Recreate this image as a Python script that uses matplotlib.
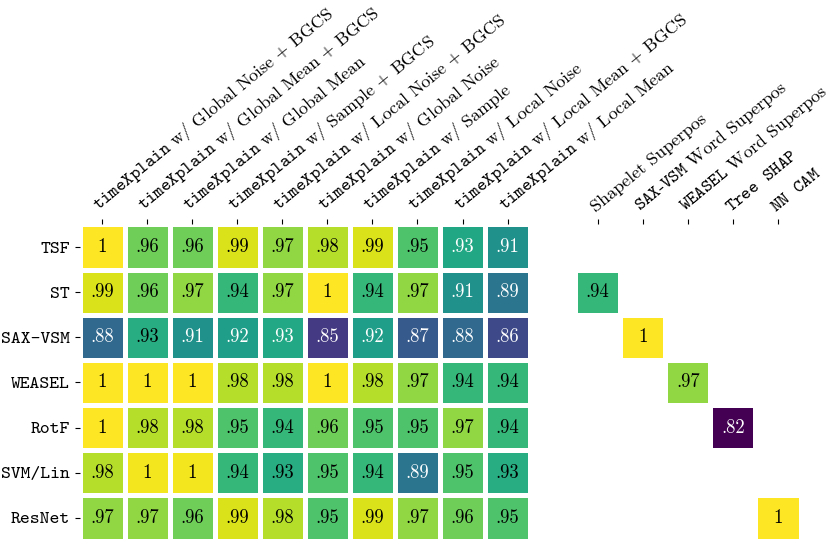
import numpy as np
import matplotlib
matplotlib.use("Agg")
import matplotlib.pyplot as plt

plt.rcParams['font.family'] = 'cmr10'
plt.rcParams['mathtext.fontset'] = 'cm'
plt.rcParams['axes.formatter.use_mathtext'] = True

classifiers = ['TSF', 'ST', 'SAX-VSM', 'WEASEL', 'RotF', 'SVM/Lin', 'ResNet']

txp_labels = [
    r'$\mathtt{timeXplain}$ w/ Global Noise + BGCS',
    r'$\mathtt{timeXplain}$ w/ Global Mean + BGCS',
    r'$\mathtt{timeXplain}$ w/ Global Mean',
    r'$\mathtt{timeXplain}$ w/ Sample + BGCS',
    r'$\mathtt{timeXplain}$ w/ Local Noise + BGCS',
    r'$\mathtt{timeXplain}$ w/ Global Noise',
    r'$\mathtt{timeXplain}$ w/ Sample',
    r'$\mathtt{timeXplain}$ w/ Local Noise',
    r'$\mathtt{timeXplain}$ w/ Local Mean + BGCS',
    r'$\mathtt{timeXplain}$ w/ Local Mean',
]
other_labels = [
    'Shapelet Superpos',
    r'$\mathtt{SAX}$-$\mathtt{VSM}$ Word Superpos',
    r'$\mathtt{WEASEL}$ Word Superpos',
    r'$\mathtt{Tree\ \ SHAP}$',
    r'$\mathtt{NN\ \ CAM}$',
]

# rows = classifiers, columns = timeXplain variants
txp_scores = [
    [1.0, .96, .96, .99, .97, .98, .99, .95, .927, .91],
    [.99, .96, .97, .94, .97, 1.0, .94, .97, .91, .89],
    [.88, .932, .91, .92, .928, .85, .92, .87, .88, .86],
    [1.0, 1.0, 1.0, .98, .98, 1.0, .98, .97, .94, .94],
    [1.0, .98, .98, .95, .94, .96, .95, .95, .97, .94],
    [.98, .997, .997, .94, .932, .95, .94, .89, .95, .932],
    [.97, .97, .96, .99, .98, .95, .99, .97, .96, .95],
]
# classifier-specific explainers: (row index, score)
other_rows = [1, 2, 3, 4, 6]
other_scores = [.94, 1.0, .97, .82, 1.0]

n_rows = len(classifiers)
n_txp = len(txp_labels)
n_cols = n_txp + 1 + len(other_labels)

grid = np.full((n_rows, n_cols), np.nan)
grid[:, :n_txp] = np.array(txp_scores)
for j, (r, s) in enumerate(zip(other_rows, other_scores)):
    grid[r, n_txp + 1 + j] = s

vmin, vmax = 0.82, 1.0
cmap = plt.get_cmap('viridis')

fig = plt.figure(figsize=(8.3, 5.44), dpi=100)
ax = fig.add_axes([79.5 / 830, 3.5 / 544, 721 / 830, 316 / 544])

ax.pcolormesh(np.ma.masked_invalid(grid), cmap=cmap, vmin=vmin, vmax=vmax,
              edgecolors='white', linewidth=3.6)
ax.set_xlim(0, n_cols)
ax.set_ylim(n_rows, 0)

def fmt(v):
    s = f'{v:.2f}'
    return '1' if s == '1.00' else s.lstrip('0')

for i in range(n_rows):
    for j in range(n_cols):
        v = grid[i, j]
        if np.isnan(v):
            continue
        color = 'white' if v < 0.93 else 'black'
        ax.text(j + 0.5, i + 0.5, fmt(v), ha='center', va='center',
                fontsize=13.5, color=color, fontfamily='cmr10')

xt = [j + 0.5 for j in range(n_txp)] + [n_txp + 1.5 + j for j in range(len(other_labels))]
ax.set_xticks(xt)
ax.set_xticklabels(txp_labels + other_labels, rotation=39.5, ha='left',
                   va='bottom', rotation_mode='anchor', fontsize=13)
ax.xaxis.tick_top()
ax.set_yticks([i + 0.5 for i in range(n_rows)])
ax.set_yticklabels(classifiers, fontsize=13.5, fontfamily='cmtt10')

for sp in ax.spines.values():
    sp.set_visible(False)

fig.savefig('out.png', dpi=100)
